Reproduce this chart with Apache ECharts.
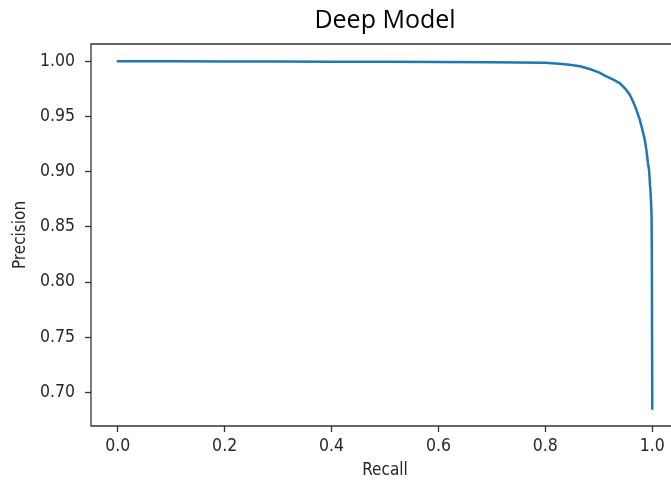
<!DOCTYPE html>
<html>
<head>
<meta charset="utf-8">
<script src="https://cdn.jsdelivr.net/npm/echarts@6/dist/echarts.min.js"></script>
<style>
  html, body { margin: 0; padding: 0; background: #fff; }
  #chart { width: 671px; height: 484px; }
</style>
</head>
<body>
<div id="chart"></div>
<script>
// Precision-recall curve of the deep model
const recall = [0, 0.1, 0.2, 0.3, 0.4, 0.5, 0.6, 0.7, 0.75, 0.8, 0.826, 0.845, 0.865, 0.883, 0.9,
  0.914, 0.927, 0.939, 0.951, 0.958, 0.964, 0.970, 0.976, 0.981, 0.986, 0.989, 0.992, 0.994,
  0.996, 0.9975, 0.9987, 0.9992, 0.9996, 1.0];
const precision = [1.0, 1.0, 0.9999, 0.9998, 0.9997, 0.9996, 0.9994, 0.9991, 0.9990, 0.9988, 0.9979,
  0.9970, 0.9955, 0.9931, 0.9900, 0.9864, 0.9835, 0.9803, 0.9743, 0.9697, 0.9636, 0.9565, 0.9480,
  0.9390, 0.9288, 0.9197, 0.9076, 0.9015, 0.8864, 0.875, 0.859, 0.82, 0.75, 0.685];

const xTicks = [0.0, 0.2, 0.4, 0.6, 0.8, 1.0];
const yTicks = [0.70, 0.75, 0.80, 0.85, 0.90, 0.95, 1.00];

const points = recall.map((r, i) => [r, precision[i]]);

// axis limits padded by 5% of the data span on each side
const xSpan = 1.0 - 0.0;
const yMin = Math.min(...precision), yMax = Math.max(...precision);
const ySpan = yMax - yMin;

const tickFont = '"DejaVu Sans Condensed", "Liberation Sans Narrow", "DejaVu Sans", sans-serif';
const axisColor = '#333333';
const textColor = '#262626';

const chart = echarts.init(document.getElementById('chart'), null, { renderer: 'canvas' });
chart.setOption({
  animation: false,
  backgroundColor: '#ffffff',
  title: {
    text: 'Deep Model',
    left: 380,
    textAlign: 'center',
    top: 3,
    textStyle: { fontFamily: '"Open Sans", sans-serif', fontSize: 25, fontWeight: 'normal', color: '#000' }
  },
  grid: {
    left: 91, top: 44, width: 588, height: 382,
    containLabel: false,
    outerBoundsMode: 'none',
    show: true, borderColor: axisColor, borderWidth: 1.3, backgroundColor: 'transparent'
  },
  xAxis: {
    type: 'value',
    min: 0.0 - 0.05 * xSpan,
    max: 1.0 + 0.05 * xSpan,
    name: 'Recall',
    nameLocation: 'middle',
    nameGap: 36,
    nameTextStyle: { fontFamily: tickFont, fontSize: 17, color: textColor },
    axisLine: { show: false, onZero: false },
    splitLine: { show: false },
    axisTick: { show: true, length: 6, lineStyle: { color: axisColor, width: 1.3 }, customValues: xTicks },
    axisLabel: {
      customValues: xTicks, margin: 11,
      fontFamily: tickFont, fontSize: 17.5, color: textColor,
      formatter: v => v.toFixed(1)
    }
  },
  yAxis: {
    type: 'value',
    min: yMin - 0.05 * ySpan,
    max: yMax + 0.05 * ySpan,
    name: 'Precision',
    nameLocation: 'middle',
    nameGap: 61,
    nameTextStyle: { fontFamily: tickFont, fontSize: 17, color: textColor },
    axisLine: { show: false, onZero: false },
    splitLine: { show: false },
    axisTick: { show: true, length: 6, lineStyle: { color: axisColor, width: 1.3 }, customValues: yTicks },
    axisLabel: {
      customValues: yTicks, margin: 16,
      fontFamily: tickFont, fontSize: 17.5, color: textColor,
      formatter: v => v.toFixed(2)
    }
  },
  series: [{
    type: 'line',
    data: points,
    showSymbol: false,
    symbol: 'none',
    smooth: false,
    clip: false,
    lineStyle: { color: '#1f77b4', width: 2.5, cap: 'round', join: 'round' }
  }]
});
</script>
</body>
</html>
